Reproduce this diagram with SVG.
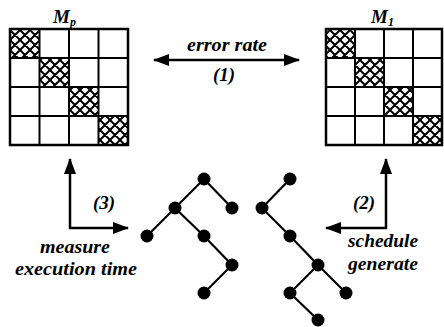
<svg xmlns="http://www.w3.org/2000/svg" width="444" height="327" viewBox="0 0 444 327">
<style>
.lbl{font-family:"Liberation Serif",serif;font-weight:700;font-style:italic;font-size:19px;fill:#000}
.grid{fill:none;stroke:#000;stroke-width:2}
.frame{fill:none;stroke:#000;stroke-width:2.5}
.conn{fill:none;stroke:#000;stroke-width:2.5}
.edge{stroke:#000;stroke-width:2.2}
.nd{fill:#000}
</style>
<defs>
<pattern id="hatch" patternUnits="userSpaceOnUse" width="10" height="10" x="0" y="0">
<path d="M0,0L10,10M10,0L0,10M-2,8L2,12M8,-2L12,2M-2,2L2,-2M8,12L12,8" stroke="#000" stroke-width="2"/>
</pattern>
<marker id="ah" viewBox="0 0 16 12" refX="15" refY="6" markerWidth="16" markerHeight="12" markerUnits="userSpaceOnUse" orient="auto-start-reverse">
<path d="M0,0L16,6L0,12Z" fill="#000"/>
</marker>
</defs>

<g id="matrix-Mp">
<rect x="10" y="29" width="29.5" height="29" fill="url(#hatch)"/>
<rect x="39.5" y="58" width="29.5" height="29" fill="url(#hatch)"/>
<rect x="69" y="87" width="29.5" height="29" fill="url(#hatch)"/>
<rect x="98.5" y="116" width="29.5" height="29" fill="url(#hatch)"/>
<path class="grid" d="M39.5,29V145M69,29V145M98.5,29V145M10,58H128M10,87H128M10,116H128"/>
<rect class="frame" x="10" y="29" width="118" height="116"/>
<text class="lbl" x="53" y="23" font-size="20">M<tspan font-size="12" dy="3">p</tspan></text>
</g>

<g id="matrix-M1">
<rect x="326" y="29" width="29" height="29" fill="url(#hatch)"/>
<rect x="355" y="58" width="29" height="29" fill="url(#hatch)"/>
<rect x="384" y="87" width="29" height="29" fill="url(#hatch)"/>
<rect x="413" y="116" width="29" height="29" fill="url(#hatch)"/>
<path class="grid" d="M355,29V145M384,29V145M413,29V145M326,58H442M326,87H442M326,116H442"/>
<rect class="frame" x="326" y="29" width="116" height="116"/>
<text class="lbl" x="371" y="23" font-size="20">M<tspan font-size="12" dy="3">1</tspan></text>
</g>

<g id="tree-left">
<g class="edge">
<line x1="204" y1="179" x2="175" y2="208"/>
<line x1="204" y1="179" x2="232" y2="208"/>
<line x1="175" y1="208" x2="147" y2="236"/>
<line x1="175" y1="208" x2="204" y2="236"/>
<line x1="204" y1="236" x2="232" y2="265"/>
<line x1="232" y1="265" x2="204" y2="293"/>
</g>
<circle class="nd" cx="204" cy="179" r="6.5"/>
<circle class="nd" cx="175" cy="208" r="6.5"/>
<circle class="nd" cx="232" cy="208" r="6.5"/>
<circle class="nd" cx="147" cy="236" r="6.5"/>
<circle class="nd" cx="204" cy="236" r="6.5"/>
<circle class="nd" cx="232" cy="265" r="6.5"/>
<circle class="nd" cx="204" cy="293" r="6.5"/>
</g>

<g id="tree-right">
<g class="edge">
<line x1="290" y1="179" x2="262" y2="208"/>
<line x1="262" y1="208" x2="290" y2="236"/>
<line x1="290" y1="236" x2="318" y2="265"/>
<line x1="318" y1="265" x2="290" y2="293"/>
<line x1="318" y1="265" x2="346" y2="293"/>
<line x1="290" y1="293" x2="318" y2="320"/>
</g>
<circle class="nd" cx="290" cy="179" r="6.5"/>
<circle class="nd" cx="262" cy="208" r="6.5"/>
<circle class="nd" cx="290" cy="236" r="6.5"/>
<circle class="nd" cx="318" cy="265" r="6.5"/>
<circle class="nd" cx="290" cy="293" r="6.5"/>
<circle class="nd" cx="346" cy="293" r="6.5"/>
<circle class="nd" cx="318" cy="320" r="6.5"/>
</g>

<g id="connectors">
<path class="conn" d="M154,60H299" marker-start="url(#ah)" marker-end="url(#ah)"/>
<text class="lbl" x="227" y="51" text-anchor="middle" textLength="80" lengthAdjust="spacingAndGlyphs">error rate</text>
<text class="lbl" x="224" y="81" text-anchor="middle">(1)</text>

<path class="conn" d="M128,228H70V159" marker-start="url(#ah)" marker-end="url(#ah)"/>
<text class="lbl" x="104" y="209" text-anchor="middle">(3)</text>
<text class="lbl" x="75" y="253" text-anchor="middle" textLength="70" lengthAdjust="spacingAndGlyphs">measure</text>
<text class="lbl" x="76" y="275" text-anchor="middle" textLength="122" lengthAdjust="spacingAndGlyphs">execution time</text>

<path class="conn" d="M326,228H386V159" marker-start="url(#ah)" marker-end="url(#ah)"/>
<text class="lbl" x="364" y="209" text-anchor="middle">(2)</text>
<text class="lbl" x="383" y="247" text-anchor="middle" textLength="70" lengthAdjust="spacingAndGlyphs">schedule</text>
<text class="lbl" x="383" y="270" text-anchor="middle" textLength="70" lengthAdjust="spacingAndGlyphs">generate</text>
</g>
</svg>
